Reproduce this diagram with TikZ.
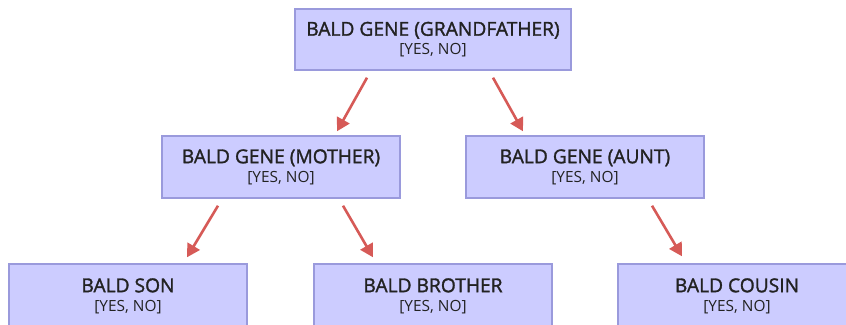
\documentclass[tikz,border=0pt]{standalone}
\usepackage{fontspec}
\setmainfont{Open Sans}
\newfontfamily\headfont{Open Sans}[FakeBold=1.5]
\usetikzlibrary{arrows.meta, calc}

\definecolor{boxfill}{HTML}{CCCCFF}
\definecolor{boxline}{HTML}{9A9ADC}
\definecolor{linkred}{HTML}{D65A57}
\definecolor{textdark}{HTML}{222222}

\tikzset{
    genebox/.style={
        draw=boxline, fill=boxfill, line width=1.4pt,
        minimum width=238pt, minimum height=61pt,
        inner sep=0pt, align=center, text=textdark,
        font=\fontsize{15.4}{19}\selectfont
    },
    link/.style={
        draw=linkred, line width=2.6pt,
        -{Triangle[length=13pt, width=14pt]}
    }
}

% two lines per box: the gene and its possible values
\newcommand{\genetext}[1]{%
    {\headfont\fontsize{19.2}{19}\selectfont #1}\\
    {[YES, NO]}}

\begin{document}
\begin{tikzpicture}[x=1pt, y=-1pt]
    \useasboundingbox (0,0) rectangle (846,324);

    % generation one
    \node[genebox, minimum width=276pt] (grand) at (433,39.5)
        {\genetext{BALD GENE (GRANDFATHER)}};

    % generation two
    \node[genebox, minimum height=62pt] (mother) at (281,167)
        {\genetext{BALD GENE (MOTHER)}};
    \node[genebox, minimum height=62pt] (aunt) at (585,167)
        {\genetext{BALD GENE (AUNT)}};

    % generation three (runs off the bottom edge)
    \node[genebox, minimum height=64pt] (son) at (128,296) {\genetext{BALD SON}};
    \node[genebox, minimum height=64pt] (brother) at (433,296) {\genetext{BALD BROTHER}};
    \node[genebox, minimum height=64pt] (cousin) at (737,296) {\genetext{BALD COUSIN}};

    % inheritance arrows
    \draw[link] ($(grand.south)+(-66,7)$) -- ($(mother.north)+(56,-4)$);
    \draw[link] ($(grand.south)+(60,7)$) -- ($(aunt.north)+(-62,-4)$);
    \draw[link] ($(mother.south)+(-63,7)$) -- ($(son.north)+(59,-6)$);
    \draw[link] ($(mother.south)+(62,7)$) -- ($(brother.north)+(-60,-6)$);
    \draw[link] ($(aunt.south)+(67,7)$) -- ($(cousin.north)+(-55,-7)$);
\end{tikzpicture}
\end{document}
